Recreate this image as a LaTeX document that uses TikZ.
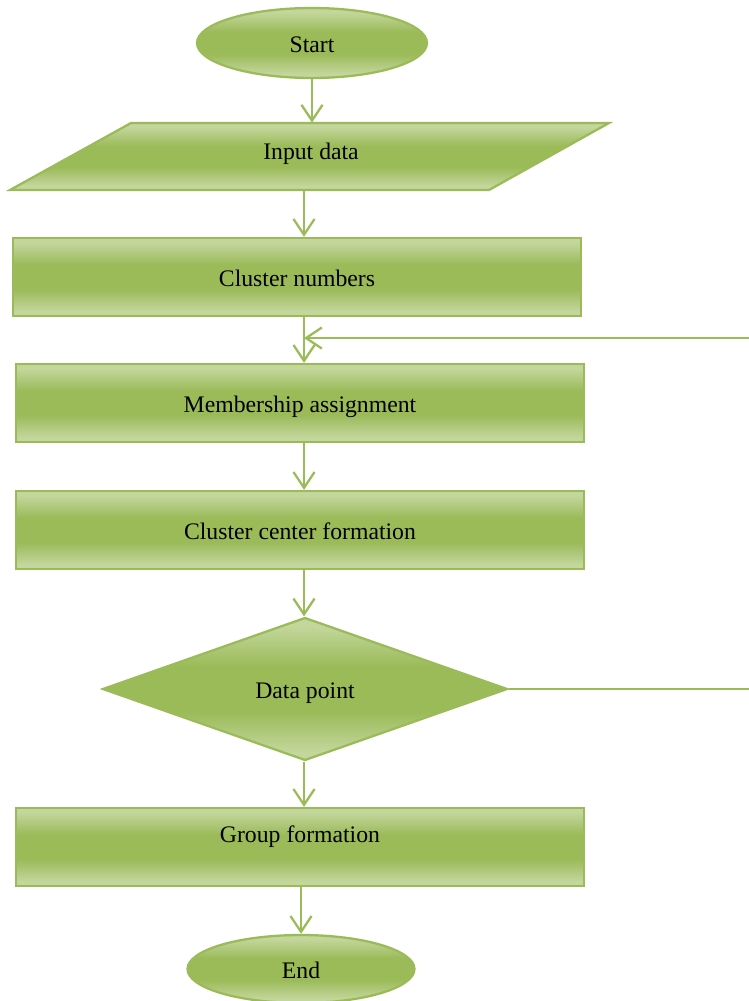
\documentclass[tikz,border=0pt]{standalone}
\usepackage{fontspec}
\setmainfont{Liberation Serif}
\usetikzlibrary{shapes.geometric,arrows.meta}

\definecolor{gl}{HTML}{C3D69B}
\definecolor{gd}{HTML}{9BBB59}
\definecolor{edge}{HTML}{9BBB59}

% light band at top and bottom, full green through the middle
\pgfdeclareverticalshading{greenband}{100bp}{%
  color(0bp)=(gl); color(28bp)=(gl); color(42bp)=(gd);
  color(58bp)=(gd); color(72bp)=(gl); color(100bp)=(gl)}

\tikzset{
  label text/.style={font=\fontsize{13.5}{16}\selectfont, text=black,
    text height=13pt, text depth=1.8pt},
  shapefill/.style={shading=greenband, draw=edge, line width=1.3pt,
    label text, inner sep=0pt},
  procbox/.style={shapefill, rectangle, minimum width=11.36cm, minimum height=1.56cm},
  terminal/.style={shapefill, ellipse},
  decision/.style={shapefill, diamond, minimum width=8.1cm, minimum height=2.86cm},
  flow/.style={draw=edge, line width=1.3pt,
    -{Straight Barb[length=9pt,width=12pt,line width=1.3pt]}},
  plain/.style={draw=edge, line width=1.3pt}
}

\begin{document}
\begin{tikzpicture}[x=0.02cm, y=-0.02cm]
  \clip (0,0) rectangle (749,1001);

  % column of the main flow lines
  \coordinate (ax) at (304,0);

  \node[terminal, minimum width=4.6cm, minimum height=1.4cm] (st) at (312,43) {Start};

  % input parallelogram
  \shade[shading=greenband, draw=edge, line width=1.3pt]
    (131,123) -- (609,123) -- (489,190) -- (10,190) -- cycle;
  \node[label text, text depth=9.8pt, inner sep=0pt,
        minimum height=1.34cm, minimum width=6cm] (in) at (311,156.5) {Input data};

  \node[procbox] (cn) at (297,277) {Cluster numbers};
  \node[procbox] (ma) at (300,403) {Membership assignment};
  \node[procbox] (cc) at (300,530) {Cluster center formation};
  \node[decision] (dp) at (305,689) {Data point};
  \node[procbox, text depth=17.6pt] (gf) at (300,847) {Group formation};
  \node[terminal, minimum width=4.54cm, minimum height=1.36cm] (en) at (301,969) {End};

  % main flow
  \draw[flow] (st.south) -- (st.south |- in.north);
  \draw[flow] (in.south -| ax) -- (cn.north -| ax);
  \draw[flow] (cn.south -| ax) -- (ma.north -| ax);
  \draw[flow] (ma.south -| ax) -- (cc.north -| ax);
  \draw[flow] (cc.south -| ax) -- (dp.north -| ax);
  \draw[flow] (dp.south -| ax) -- (gf.north -| ax);
  \draw[flow] (gf.south -| en.north) -- (en.north);

  % loop back from the decision
  \coordinate (dr) at (749,689);
  \coordinate (rt) at (749,338);
  \draw[plain] (dp.east) -- (dr);
  \draw[flow] (rt) -- (rt -| ax);
\end{tikzpicture}
\end{document}
